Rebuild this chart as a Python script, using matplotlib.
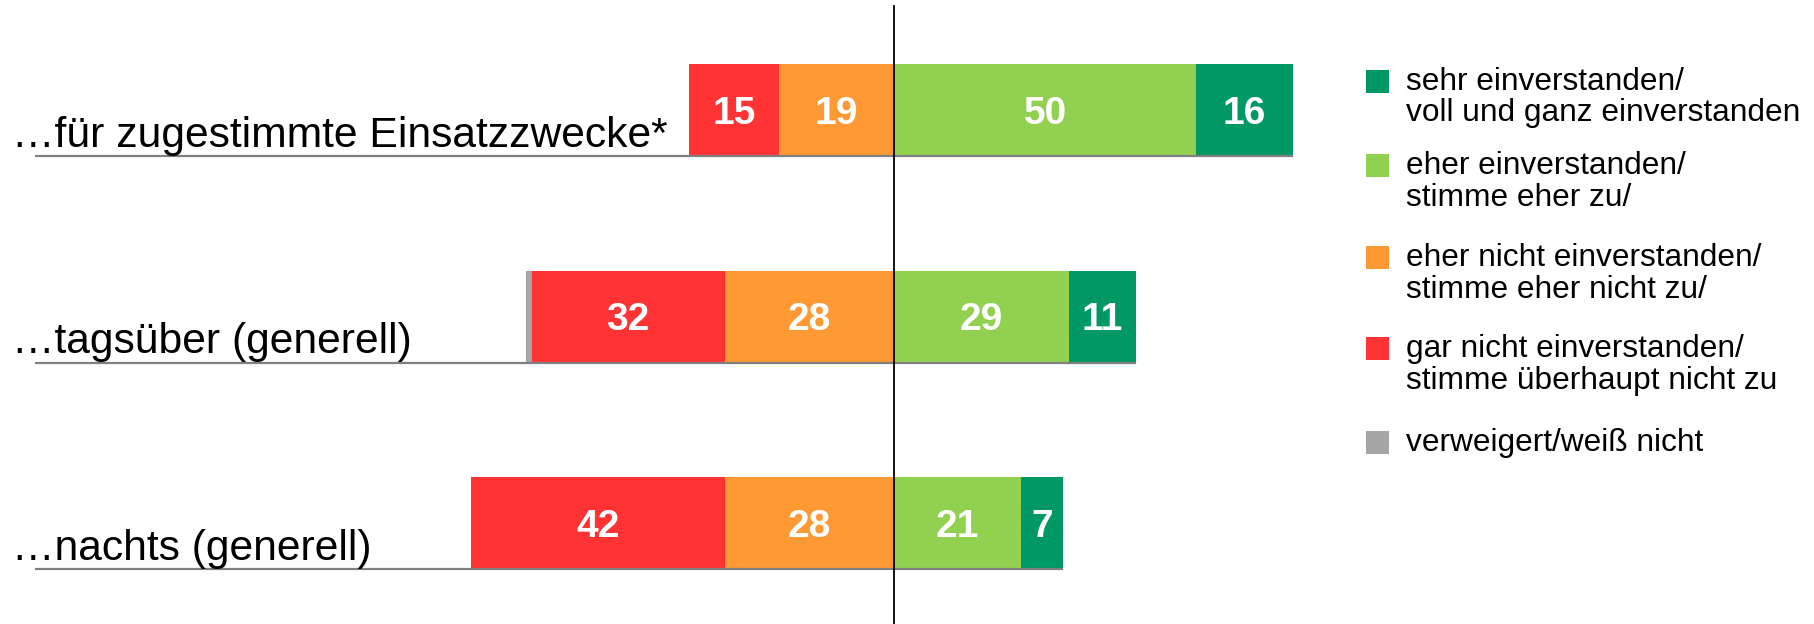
import matplotlib
matplotlib.use("Agg")
import matplotlib.pyplot as plt
from matplotlib.patches import Rectangle

categories = ["…für zugestimmte Einsatzzwecke*", "…tagsüber (generell)", "…nachts (generell)"]
gar_nicht = [15, 32, 42]
eher_nicht = [19, 28, 28]
eher = [50, 29, 21]
sehr = [16, 11, 7]
weiss_nicht = [0, 1, 0]

legend_labels = [
    "sehr einverstanden/\nvoll und ganz einverstanden",
    "eher einverstanden/\nstimme eher zu/",
    "eher nicht einverstanden/\nstimme eher nicht zu/",
    "gar nicht einverstanden/\nstimme überhaupt nicht zu",
    "verweigert/weiß nicht",
]

c_sehr = "#009966"
c_eher = "#92D050"
c_ehernicht = "#FF9933"
c_gar = "#FF3333"
c_grey = "#A6A6A6"

W, H = 1814, 624
fig = plt.figure(figsize=(W / 100, H / 100), dpi=100)
ax = fig.add_axes([0, 0, 1, 1])
ax.set_axis_off()

px_per_unit = 6.04
cx = 894
ax.set_xlim(-cx / px_per_unit, (W - cx) / px_per_unit)
y0, dy = 110, 206.5
ax.set_ylim((H - y0) / dy, -y0 / dy)

bh = 92 / dy
font = "Liberation Sans"
ys = list(range(len(categories)))

for i in ys:
    left = -(gar_nicht[i] + eher_nicht[i])
    segs = [
        (left - weiss_nicht[i], weiss_nicht[i], c_grey),
        (left, gar_nicht[i], c_gar),
        (-eher_nicht[i], eher_nicht[i], c_ehernicht),
        (0, eher[i], c_eher),
        (eher[i], sehr[i], c_sehr),
    ]
    for start, w, col in segs:
        if w <= 0:
            continue
        ax.barh(i, w, left=start, height=bh, color=col, edgecolor="none", zorder=2)
        if col != c_grey:
            ax.text(start + w / 2, i + 4 / dy, str(w), ha="center", va="center", color="white",
                    fontsize=28, fontweight="bold", family=font, zorder=4)
    right = eher[i] + sehr[i]
    xl = (35 - cx) / px_per_unit
    ax.plot([xl, right], [i + bh / 2, i + bh / 2], color="#808080", lw=1.6, zorder=3,
            solid_capstyle="butt")
    ax.text((12 - cx) / px_per_unit, i + bh / 2 - 9 / dy, categories[i], ha="left",
            va="baseline", fontsize=30.7, family=font, color="black", zorder=4)

ax.axvline(0, ymin=0, ymax=1 - 6 / H, color="black", lw=1.3, zorder=5)

# legend
leg_colors = [c_sehr, c_eher, c_ehernicht, c_gar, c_grey]
leg_y = [81, 165, 257, 348, 442]
for col, lab, yy in zip(leg_colors, legend_labels, leg_y):
    fig.patches.append(Rectangle((1366 / W, 1 - (yy + 12) / H), 23 / W, 23 / H,
                                 transform=fig.transFigure, facecolor=col,
                                 edgecolor="none"))
    lines = lab.split("\n")
    for k, ln in enumerate(lines):
        fig.text(1406 / W, 1 - (yy + 1 + k * 31.5) / H, ln, ha="left", va="center",
                 fontsize=22.8, family=font, color="black")

fig.savefig("out.png", dpi=100)
